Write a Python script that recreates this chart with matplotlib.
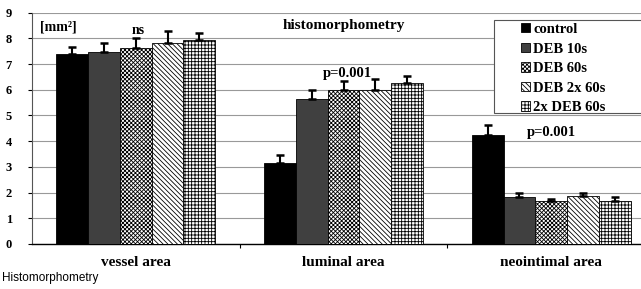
import numpy as np
import matplotlib
matplotlib.use("Agg")
import matplotlib.pyplot as plt
from matplotlib.patches import Rectangle

plt.rcParams['hatch.linewidth'] = 0.6

categories = ['vessel area', 'luminal area', 'neointimal area']
groups = ['control', 'DEB 10s', 'DEB 60s', 'DEB 2x 60s', '2x DEB 60s']

means = {
    'control':    [7.38, 3.14, 4.24],
    'DEB 10s':    [7.48, 5.65, 1.83],
    'DEB 60s':    [7.64, 5.99, 1.67],
    'DEB 2x 60s': [7.81, 5.98, 1.86],
    '2x DEB 60s': [7.94, 6.26, 1.67],
}
errors = {
    'control':    [0.30, 0.31, 0.39],
    'DEB 10s':    [0.33, 0.33, 0.14],
    'DEB 60s':    [0.36, 0.34, 0.07],
    'DEB 2x 60s': [0.48, 0.43, 0.11],
    '2x DEB 60s': [0.28, 0.28, 0.15],
}

styles = {
    'control':    dict(color='black', hatch=None),
    'DEB 10s':    dict(color='#404040', hatch=None),
    'DEB 60s':    dict(color='white', hatch='xxxxxxxx'),
    'DEB 2x 60s': dict(color='white', hatch='\\\\\\\\\\\\\\'),
    '2x DEB 60s': dict(color='white', hatch='+++++'),
}

serif = 'Liberation Serif'
bold = dict(fontfamily=serif, fontweight='bold')

fig = plt.figure(figsize=(6.41, 2.89), dpi=100)
ax = fig.add_axes([32 / 641, 45 / 289, 623 / 641, 231.4 / 289])

x = np.arange(len(categories))
w = 0.153
for i, g in enumerate(groups):
    st = styles[g]
    ax.bar(x + (i - 2) * w, means[g], w, color=st['color'], hatch=st['hatch'],
           edgecolor='black', linewidth=0.6, label=g, zorder=3,
           yerr=[np.zeros(3), errors[g]], capsize=3,
           error_kw=dict(elinewidth=1.5, capthick=1.8, ecolor='black'))

ax.set_xlim(-0.5, 2.5)
ax.set_ylim(0, 9)
ax.set_yticks(range(10))
ax.set_yticklabels([str(v) for v in range(10)], fontsize=9, **bold)
ax.set_xticks([0.5, 1.5])
ax.set_xticklabels([])
ax.tick_params(axis='x', length=3, width=0.8)
ax.tick_params(axis='y', length=3, width=0.8, pad=16)
for t in ax.get_yticklabels():
    t.set_horizontalalignment('left')
ax.grid(axis='y', color='#999999', linewidth=0.8, zorder=0)
for s in ['top', 'right']:
    ax.spines[s].set_visible(False)
ax.spines['left'].set_color('#555555')
ax.spines['bottom'].set_linewidth(1.0)

for xi, cat in zip(x, categories):
    ax.text(xi, -0.72, cat, ha='center', va='center', fontsize=11, **bold)

ax.text(-0.46, 8.44, '[mm²]', ha='left', va='center', fontsize=10, **bold)
ax.text(0.01, 8.3, 'ns', ha='center', va='center', fontsize=10, **bold)
ax.text(1.0, 8.5, 'histomorphometry', ha='center', va='center', fontsize=11, **bold)
ax.text(1.02, 6.65, 'p=0.001', ha='center', va='center', fontsize=10.5, **bold)
ax.text(2.0, 4.32, 'p=0.001', ha='center', va='center', fontsize=10.5, **bold)

fig.patches.append(Rectangle((494 / 641, 1 - 113 / 289), 170 / 641, 93 / 289,
                             transform=fig.transFigure, facecolor='white',
                             edgecolor='#555555', linewidth=0.8, zorder=5))
leg = fig.legend(loc='upper left', bbox_to_anchor=(521 / 641, 1 - 23 / 289),
                 prop=dict(family=serif, weight='bold', size=10.5),
                 frameon=False, handlelength=0.6, handleheight=0.6,
                 handletextpad=0.25, borderpad=0, labelspacing=0.45,
                 borderaxespad=0)
leg.set_zorder(6)

fig.text(2 / 641, 1 - 278 / 289, 'Histomorphometry', fontfamily='Liberation Sans',
         fontsize=8.5, va='center')

fig.savefig('out.png', dpi=100)
